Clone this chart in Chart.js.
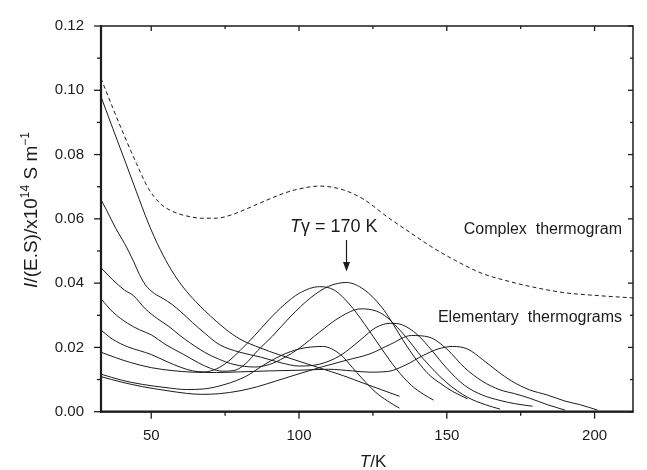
<!DOCTYPE html>
<html>
<head>
<meta charset="utf-8">
<script src="https://cdn.jsdelivr.net/npm/chart.js@4"></script>
<style>
    html, body { margin: 0; background: #fff; }
    #wrap { width: 647px; height: 470px; position: relative; }
</style>
</head>
<body>
<div id="wrap"><canvas id="c"></canvas></div>
<script>
// axes
const X_TICKS = [50, 75, 100, 125, 150, 175, 200];
const X_LABELS = ['50', '', '100', '', '150', '', '200'];
const Y_TICKS = [0, 0.01, 0.02, 0.03, 0.04, 0.05, 0.06, 0.07, 0.08, 0.09, 0.10, 0.11, 0.12];
const Y_LABELS = ['0.00', '', '0.02', '', '0.04', '', '0.06', '', '0.08', '', '0.10', '', '0.12'];

// complex thermogram (dashed)
const T_COMPLEX = [33, 37, 41, 45, 49, 53, 57, 62, 67, 72, 77, 82, 87, 95, 100, 107, 115, 122, 130, 138, 145, 153, 162, 170, 178, 190, 200, 213];
const I_COMPLEX = [0.1037, 0.0945, 0.0856, 0.0772, 0.0695, 0.0648, 0.0624, 0.0609, 0.0602, 0.0602, 0.0612, 0.063, 0.065, 0.068, 0.0693, 0.0702, 0.069, 0.066, 0.0605, 0.0555, 0.0512, 0.047, 0.043, 0.0408, 0.039, 0.037, 0.0362, 0.0354];

// elementary thermograms
const T_A = [33, 37, 41, 45, 49, 53, 57, 61, 65, 70, 75, 80, 87, 93, 100, 107, 115, 122, 128, 134];
const I_A = [0.098, 0.0881, 0.0783, 0.0684, 0.0587, 0.0505, 0.0438, 0.0385, 0.0343, 0.0298, 0.0258, 0.0226, 0.0198, 0.0178, 0.0157, 0.0136, 0.0112, 0.0088, 0.0068, 0.0048];

const T_B = [33, 35, 38, 41, 44, 46, 48, 51, 54, 57, 60, 64, 68, 73, 80, 87, 94, 100, 107, 114, 121, 126, 131, 135, 140, 145, 150, 156, 162, 168, 173, 179];
const I_B = [0.066, 0.0625, 0.057, 0.0523, 0.0468, 0.0427, 0.0395, 0.0368, 0.0352, 0.0334, 0.0311, 0.0277, 0.0245, 0.0209, 0.0185, 0.017, 0.0152, 0.0142, 0.0148, 0.0175, 0.0225, 0.0262, 0.0275, 0.027, 0.024, 0.019, 0.0135, 0.0082, 0.0052, 0.0035, 0.0025, 0.0017];

const T_C = [33, 37, 41, 44, 48, 52, 56, 60, 63, 68, 73, 78, 85, 90, 95, 100, 107, 114, 121, 128, 135, 142, 150, 157, 163, 168];
const I_C = [0.0448, 0.041, 0.0378, 0.0361, 0.032, 0.029, 0.0265, 0.0235, 0.0215, 0.0185, 0.0163, 0.0147, 0.0139, 0.0147, 0.0168, 0.0197, 0.0248, 0.0295, 0.032, 0.0305, 0.0245, 0.0165, 0.009, 0.0045, 0.0022, 0.0008];

const T_D = [33, 37, 42, 46, 50, 55, 61, 66, 70, 74, 78, 82, 86, 91, 97, 104, 110, 116, 122, 128, 131, 135, 140, 144, 148, 152, 157];
const I_D = [0.0351, 0.031, 0.0275, 0.0255, 0.0239, 0.0208, 0.0178, 0.0152, 0.0135, 0.0126, 0.0128, 0.015, 0.019, 0.0235, 0.0295, 0.0355, 0.039, 0.0402, 0.038, 0.0325, 0.0285, 0.0225, 0.0158, 0.0115, 0.0087, 0.0063, 0.004];

const T_E = [33, 37, 42, 46, 50, 55, 60, 64, 68, 72, 76, 80, 85, 90, 95, 100, 107, 112, 117, 122, 128, 133, 138, 142, 145.5];
const I_E = [0.0254, 0.0225, 0.0202, 0.019, 0.0178, 0.0157, 0.0138, 0.0127, 0.0124, 0.0133, 0.0156, 0.019, 0.0237, 0.0288, 0.0333, 0.0368, 0.0389, 0.0378, 0.0335, 0.0275, 0.0195, 0.0132, 0.0082, 0.0055, 0.0036];

const T_F = [33, 38, 43, 50, 57, 64, 72, 80, 90, 100, 110, 118, 124, 130, 136, 142, 147, 152, 157, 162, 167, 172, 178, 184, 190, 195, 201];
const I_F = [0.0185, 0.0168, 0.0153, 0.0137, 0.0128, 0.0123, 0.0122, 0.0124, 0.0127, 0.0129, 0.0132, 0.0127, 0.0123, 0.0125, 0.0145, 0.0175, 0.0195, 0.0203, 0.0195, 0.0163, 0.0127, 0.0095, 0.0068, 0.0052, 0.0033, 0.0022, 0.0005];

const T_G = [33, 40, 47, 55, 62, 68, 75, 82, 88, 94, 100, 108, 114, 118, 121, 126, 130, 134];
const I_G = [0.0117, 0.0098, 0.0085, 0.0075, 0.0069, 0.0071, 0.0085, 0.011, 0.0145, 0.0175, 0.0195, 0.0203, 0.0178, 0.0138, 0.0107, 0.006, 0.0033, 0.0011];

const T_H = [33, 40, 47, 55, 62, 67, 73, 80, 86, 92, 100, 108, 116, 124, 131, 138, 144, 150, 156, 162, 168, 173, 178, 184, 190];
const I_H = [0.0109, 0.0092, 0.0078, 0.0066, 0.0057, 0.0054, 0.0056, 0.0065, 0.0078, 0.0095, 0.0118, 0.014, 0.016, 0.018, 0.021, 0.0237, 0.0232, 0.0195, 0.0137, 0.0095, 0.0068, 0.0056, 0.0042, 0.0022, 0.0005];

const ELEMENTARY = [[T_A, I_A], [T_B, I_B], [T_C, I_C], [T_D, I_D], [T_E, I_E], [T_F, I_F], [T_G, I_G], [T_H, I_H]];

const INK = '#1c1c1c';
const FONT = '"Liberation Sans", Arial, Helvetica, sans-serif';
const pts = (T, I) => T.map((t, i) => ({ x: t, y: I[i] }));

const datasets = ELEMENTARY.map(([T, I]) => ({ data: pts(T, I), borderColor: INK, borderWidth: 1 }));
datasets.push({ data: pts(T_COMPLEX, I_COMPLEX), borderColor: INK, borderWidth: 1, borderDash: [4, 3] });

function seg(ctx, x1, y1, x2, y2) { ctx.beginPath(); ctx.moveTo(x1, y1); ctx.lineTo(x2, y2); ctx.stroke(); }

const decor = {
    id: 'decor',
    afterDraw(chart) {
        const { ctx, chartArea: a, scales: { x, y } } = chart;
        ctx.save();
        ctx.strokeStyle = INK; ctx.fillStyle = INK;
        // frame
        ctx.lineWidth = 1.5;
        ctx.strokeRect(a.left, a.top, a.right - a.left, a.bottom - a.top);
        ctx.lineWidth = 2.2;
        seg(ctx, a.left, a.top - 0.7, a.left, a.bottom + 1);
        seg(ctx, a.left - 1, a.bottom, a.right + 0.7, a.bottom);
        // ticks: outward on left/bottom, inward on top/right
        ctx.lineWidth = 1.3;
        X_TICKS.forEach((v, i) => {
            const px = x.getPixelForValue(v), major = X_LABELS[i] !== '';
            seg(ctx, px, a.bottom, px, a.bottom + (major ? 7 : 4));
            seg(ctx, px, a.top, px, a.top + (major ? 5 : 3));
        });
        Y_TICKS.forEach((v, i) => {
            const py = y.getPixelForValue(v), major = Y_LABELS[i] !== '';
            seg(ctx, a.left, py, a.left - (major ? 7 : 4), py);
            seg(ctx, a.right, py, a.right - (major ? 5 : 3), py);
        });

        // x title
        ctx.textBaseline = 'alphabetic'; ctx.textAlign = 'left';
        const xt = [['T', 'italic '], ['/K', '']];
        let w = 0; xt.forEach(([t, s]) => { ctx.font = `${s}17px ${FONT}`; w += ctx.measureText(t).width; });
        let cx = 373 - w / 2;
        xt.forEach(([t, s]) => { ctx.font = `${s}17px ${FONT}`; ctx.fillText(t, cx, 467); cx += ctx.measureText(t).width; });

        // y title (rotated, with superscripts)
        const fs = 19, ss = 12;
        const yt = [['I', `italic ${fs}px`, 0], ['/(E.S)/x10', `${fs}px`, 0], ['14', `${ss}px`, 8], [' S m', `${fs}px`, 0], ['\u22121', `${ss}px`, 8]];
        w = 0; yt.forEach(([t, f]) => { ctx.font = `${f} ${FONT}`; w += ctx.measureText(t).width; });
        ctx.save();
        ctx.translate(37, 210); ctx.rotate(-Math.PI / 2);
        cx = -w / 2;
        yt.forEach(([t, f, up]) => { ctx.font = `${f} ${FONT}`; ctx.fillText(t, cx, -up); cx += ctx.measureText(t).width; });
        ctx.restore();

        // annotations
        const ann = [['T', 'italic '], ['\u03b3 = 170 K', '']];
        cx = 290;
        ann.forEach(([t, s]) => { ctx.font = `${s}18px ${FONT}`; ctx.fillText(t, cx, 231.5); cx += ctx.measureText(t).width; });
        ctx.lineWidth = 1.2;
        seg(ctx, 346.5, 240, 346.5, 264);
        ctx.beginPath(); ctx.moveTo(346.5, 271.5); ctx.lineTo(343, 262); ctx.lineTo(350, 262); ctx.closePath(); ctx.fill();

        ctx.font = `16px ${FONT}`; ctx.textAlign = 'right';
        ctx.fillText('Complex  thermogram', 622, 234);
        ctx.fillText('Elementary  thermograms', 622, 322);
        ctx.restore();
    }
};

new Chart(document.getElementById('c'), {
    type: 'line',
    data: { datasets },
    plugins: [decor],
    options: {
        responsive: true, maintainAspectRatio: false, animation: false,
        layout: { padding: { left: 0, right: 14, top: 18, bottom: 0 } },
        plugins: { legend: { display: false }, tooltip: { enabled: false } },
        elements: { point: { radius: 0 }, line: { cubicInterpolationMode: 'monotone', fill: false } },
        scales: {
            x: {
                type: 'linear', min: 33, max: 213,
                grid: { display: false, drawTicks: false }, border: { display: false },
                afterBuildTicks: (s) => { s.ticks = X_TICKS.map((v) => ({ value: v })); },
                afterFit: (s) => { s.height = 58.3; },
                ticks: { autoSkip: false, maxRotation: 0, padding: 15, color: INK, font: { family: FONT, size: 15 },
                    callback: (v, i) => X_LABELS[i] },
            },
            y: {
                type: 'linear', min: 0, max: 0.12,
                grid: { display: false, drawTicks: false }, border: { display: false },
                afterBuildTicks: (s) => { s.ticks = Y_TICKS.map((v) => ({ value: v })); },
                afterFit: (s) => { s.width = 101; },
                ticks: { autoSkip: false, padding: 17, color: INK, font: { family: FONT, size: 15 },
                    callback: (v, i) => Y_LABELS[i] },
            },
        },
    },
});
</script>
</body>
</html>
